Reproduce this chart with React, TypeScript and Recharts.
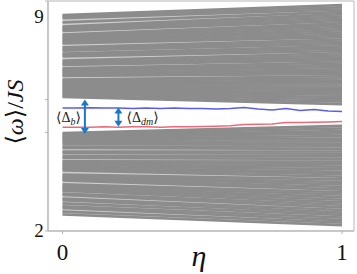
import { ComposedChart, Line, Area, XAxis, YAxis, ReferenceLine, ReferenceArea } from 'recharts';

// gray eigenvalue bands: value at eta = 0 and at eta = 1
const upperStart = [
  8.57, 8.53, 8.48, 8.35, 8.22, 8.18, 8.13, 8.09, 7.98, 7.94, 7.89, 7.84, 7.8, 7.75, 7.71,
  7.59, 7.54, 7.49, 7.4, 7.36, 7.31, 7.19, 7.14, 7.1, 7.05, 6.95, 6.9, 6.86, 6.81, 6.76,
  6.72, 6.61, 6.57, 6.52, 6.47, 6.43, 6.38, 6.34, 6.29, 6.25, 6.2, 6.16, 6.11, 6.08,
];
const upperEnd = [
  8.88, 8.81, 8.74, 8.67, 8.6, 8.53, 8.46, 8.39, 8.32, 8.25, 8.18, 8.11, 8.04, 7.97, 7.9,
  7.83, 7.76, 7.69, 7.62, 7.55, 7.48, 7.41, 7.34, 7.27, 7.2, 7.13, 7.06, 6.99, 6.92, 6.85,
  6.78, 6.71, 6.64, 6.57, 6.5, 6.43, 6.36, 6.29, 6.22, 6.15, 6.08, 6.01, 5.94, 5.86,
];
const lowerStart = [
  4.98, 4.94, 4.89, 4.85, 4.8, 4.76, 4.71, 4.66, 4.57, 4.53, 4.42, 4.37, 4.27, 4.22, 4.12,
  4.07, 4.02, 3.98, 3.93, 3.89, 3.84, 3.72, 3.67, 3.63, 3.58, 3.54, 3.42, 3.37, 3.32, 3.28,
  3.23, 3.14, 3.1, 2.99, 2.94, 2.84, 2.75, 2.7, 2.59, 2.5,
];
const lowerEnd = [
  5.2, 5.12, 5.04, 4.97, 4.89, 4.81, 4.73, 4.66, 4.58, 4.5, 4.42, 4.35, 4.27, 4.19, 4.11,
  4.04, 3.96, 3.88, 3.8, 3.73, 3.65, 3.57, 3.49, 3.42, 3.34, 3.26, 3.18, 3.11, 3.03, 2.95,
  2.87, 2.8, 2.72, 2.64, 2.56, 2.49, 2.41, 2.33, 2.26, 2.18,
];

const etaGrid = [
  0, 0.05, 0.1, 0.15, 0.2, 0.25, 0.3, 0.35, 0.4, 0.45, 0.5, 0.55, 0.6, 0.65, 0.7, 0.75, 0.8,
  0.85, 0.9, 0.95, 1,
];
const blueValues = [
  5.74, 5.74, 5.75, 5.74, 5.74, 5.73, 5.74, 5.73, 5.74, 5.73, 5.73, 5.71, 5.73, 5.76, 5.71,
  5.68, 5.73, 5.67, 5.7, 5.65, 5.64,
];
const redValues = [
  5.16, 5.16, 5.16, 5.17, 5.16, 5.17, 5.17, 5.16, 5.17, 5.17, 5.18, 5.19, 5.2, 5.24, 5.25,
  5.26, 5.3, 5.3, 5.31, 5.32, 5.33,
];

const xTicks = [0, 1];
const yTicks = [2, 5, 6, 9];

const serif = '"Liberation Serif", "DejaVu Serif", serif';
const arrowBlue = '#1a78c8';
const bandGray = '#8c8c8c';

const bandLines = [
  ...upperStart.map((s, i) => [s, upperEnd[i]]),
  ...lowerStart.map((s, i) => [s, lowerEnd[i]]),
].map(([a, b]) => [
  { eta: 0, v: a },
  { eta: 1, v: b },
]);

// light base under each band so the gaps read as pale gray, not white
const bandBase = (start: number[], end: number[]) => [
  { eta: 0, v: [start[start.length - 1], start[0]] },
  { eta: 1, v: [end[end.length - 1], end[0]] },
];

const toSeries = (vals: number[]) => etaGrid.map((eta, i) => ({ eta, v: vals[i] }));

const arrowShape = (sub: string, side: 'left' | 'right') => (props: any) => {
  const { x1, y1, x2, y2 } = props;
  const top = Math.min(y1, y2);
  const bot = Math.max(y1, y2);
  const h = 5;
  const mid = (top + bot) / 2;
  return (
    <g>
      <line x1={x1} y1={top + 4} x2={x2} y2={bot - 4} stroke={arrowBlue} strokeWidth={2} />
      <polygon points={`${x1 - 4},${top + h + 1} ${x1 + 4},${top + h + 1} ${x1},${top}`} fill={arrowBlue} />
      <polygon points={`${x1 - 4},${bot - h - 1} ${x1 + 4},${bot - h - 1} ${x1},${bot}`} fill={arrowBlue} />
      <text
        x={side === 'left' ? x1 - 4 : x1 + 8}
        y={mid + 5}
        textAnchor={side === 'left' ? 'end' : 'start'}
        fontFamily={serif}
        fontSize={14}
        fill="#222"
      >
        ⟨Δ
        <tspan fontSize={10} fontStyle="italic" dy={3}>
          {sub}
        </tspan>
        <tspan dy={-3}>⟩</tspan>
      </text>
    </g>
  );
};

const XTick = (props: any) => {
  const { x, y, payload } = props;
  return (
    <text x={x} y={y} dy={24} textAnchor="middle" fontFamily={serif} fontSize={23} fill="#111">
      {payload.value}
    </text>
  );
};

const YTick = (props: any) => {
  const { x, y, payload } = props;
  if (payload.value !== 2 && payload.value !== 9) return null;
  return (
    <text
      x={x - 4}
      y={y}
      dy={payload.value === 9 ? 14 : 6}
      textAnchor="middle"
      fontFamily={serif}
      fontSize={19}
      fill="#111"
    >
      {payload.value}
    </text>
  );
};

export default function App() {
  return (
    <div style={{ position: 'absolute', left: 0, top: 0, width: 357, height: 274, background: '#fff' }}>
      <ComposedChart width={357} height={274} margin={{ top: 1, right: 3, left: 0, bottom: 0 }}>
        <XAxis
          type="number"
          dataKey="eta"
          domain={[-0.052, 1.043]}
          ticks={xTicks}
          allowDataOverflow
          height={43}
          tickSize={3}
          tickMargin={2}
          stroke="#b5b5b5"
          tick={<XTick />}
        />
        <YAxis
          type="number"
          domain={[2, 9]}
          ticks={yTicks}
          allowDataOverflow
          width={48}
          tickSize={3}
          tickMargin={2}
          stroke="#b5b5b5"
          tick={<YTick />}
        />
        <ReferenceArea x1={-0.052} x2={1.043} y1={2} y2={9} fill="none" stroke="#b5b5b5" strokeWidth={1} />
        <Area
          data={bandBase(upperStart, upperEnd)}
          dataKey="v"
          type="linear"
          stroke="none"
          fill="#cfcfcf"
          fillOpacity={1}
          activeDot={false}
          isAnimationActive={false}
        />
        <Area
          data={bandBase(lowerStart, lowerEnd)}
          dataKey="v"
          type="linear"
          stroke="none"
          fill="#cfcfcf"
          fillOpacity={1}
          activeDot={false}
          isAnimationActive={false}
        />
        {bandLines.map((d, i) => (
          <Line
            key={`band-${i}`}
            data={d}
            dataKey="v"
            stroke={bandGray}
            strokeWidth={2.6}
            dot={false}
            activeDot={false}
            isAnimationActive={false}
          />
        ))}
        <Line
          data={toSeries(blueValues)}
          dataKey="v"
          stroke="#5b5bf0"
          strokeWidth={1.5}
          dot={false}
          activeDot={false}
          isAnimationActive={false}
        />
        <Line
          data={toSeries(redValues)}
          dataKey="v"
          stroke="#ec6a78"
          strokeWidth={1.5}
          dot={false}
          activeDot={false}
          isAnimationActive={false}
        />
        <ReferenceLine
          segment={[
            { x: 0.08, y: 6.0 },
            { x: 0.08, y: 4.95 },
          ]}
          shape={arrowShape('b', 'left')}
        />
        <ReferenceLine
          segment={[
            { x: 0.2, y: 5.76 },
            { x: 0.2, y: 5.17 },
          ]}
          shape={arrowShape('dm', 'right')}
        />
      </ComposedChart>
      <div
        style={{
          position: 'absolute',
          left: 15,
          top: 112,
          transform: 'translate(-50%, -50%) rotate(-90deg)',
          fontFamily: serif,
          fontSize: 24,
          whiteSpace: 'nowrap',
          color: '#111',
        }}
      >
        ⟨<i>ω</i>⟩/<i>JS</i>
      </div>
      <div
        style={{
          position: 'absolute',
          left: 199,
          top: 256,
          transform: 'translate(-50%, -50%)',
          fontFamily: serif,
          fontSize: 30,
          fontStyle: 'italic',
          color: '#111',
        }}
      >
        η
      </div>
    </div>
  );
}
